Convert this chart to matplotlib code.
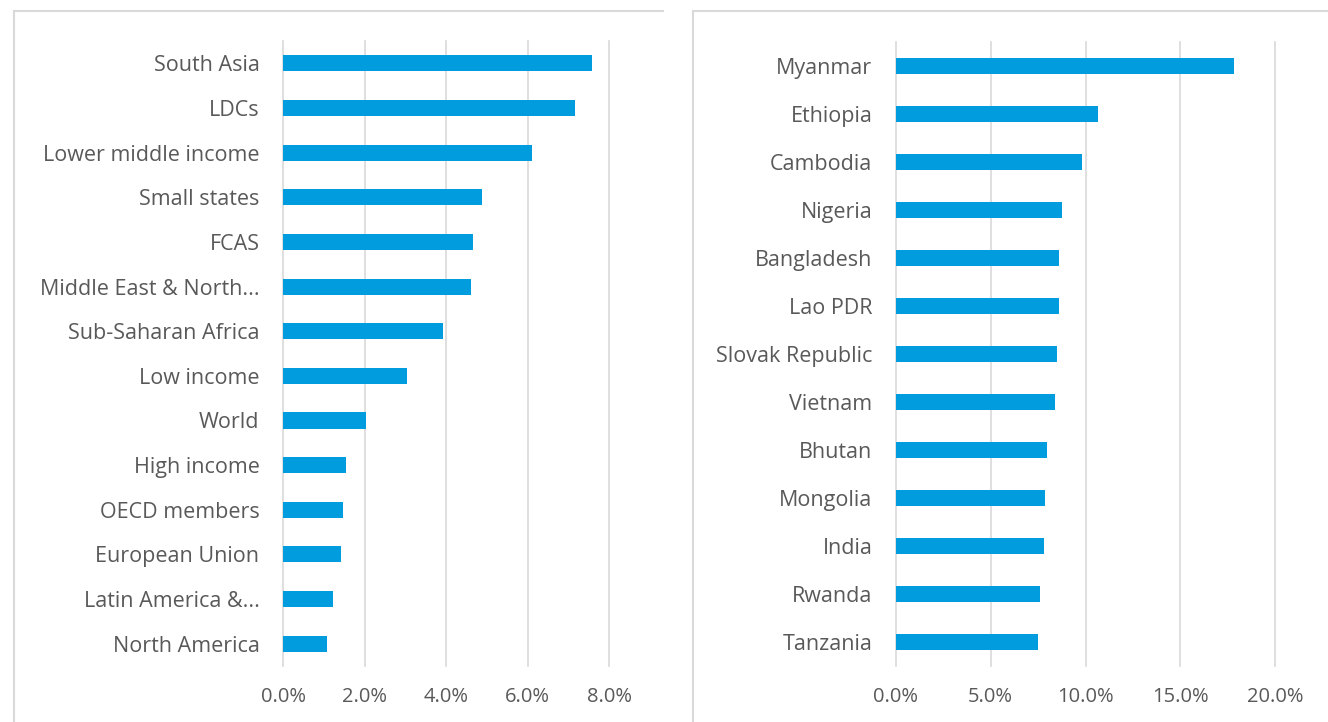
import numpy as np
import matplotlib.pyplot as plt
from matplotlib.lines import Line2D
from matplotlib.ticker import PercentFormatter

regions = ['South Asia', 'LDCs', 'Lower middle income', 'Small states', 'FCAS',
           'Middle East & North...', 'Sub-Saharan Africa', 'Low income', 'World',
           'High income', 'OECD members', 'European Union', 'Latin America &...',
           'North America']
region_vals = [7.58, 7.16, 6.11, 4.88, 4.66, 4.61, 3.93, 3.04, 2.04, 1.55, 1.47,
               1.42, 1.23, 1.08]

countries = ['Myanmar', 'Ethiopia', 'Cambodia', 'Nigeria', 'Bangladesh', 'Lao PDR',
             'Slovak Republic', 'Vietnam', 'Bhutan', 'Mongolia', 'India', 'Rwanda',
             'Tanzania']
country_vals = [17.83, 10.65, 9.81, 8.76, 8.6, 8.6, 8.5, 8.39, 7.96, 7.86, 7.8,
                7.6, 7.49]

W, H = 1328, 722
bar_color = '#009cde'
grid_color = '#d9d9d9'
text_color = '#595959'

plt.rcParams['font.family'] = ['Open Sans', 'DejaVu Sans']

fig = plt.figure(figsize=(W / 100, H / 100), dpi=100)

# panel frames: only top and left edges are visible in the crop
top = (H - 10.5) / H
for x0, x1 in [(14, 663), (693, W + 10)]:
    fig.add_artist(Line2D([x0 / W, x1 / W], [top, top], transform=fig.transFigure,
                          color=grid_color, linewidth=1.5))
    fig.add_artist(Line2D([x0 / W, x0 / W], [top, -0.1], transform=fig.transFigure,
                          color=grid_color, linewidth=1.5))


def draw(rect, labels, vals, xmax, step, height):
    ax = fig.add_axes(rect)
    y = np.arange(len(labels))
    ax.barh(y, np.array(vals) / 100, height=height, color=bar_color)
    ax.set_yticks(y)
    ax.set_yticklabels(labels)
    ax.set_ylim(len(labels) - 0.5, -0.5)
    ax.set_xlim(0, xmax)
    ax.set_xticks(np.arange(0, xmax + 1e-9, step))
    ax.xaxis.set_major_formatter(PercentFormatter(1.0, decimals=1))
    ax.grid(axis='x', color=grid_color, linewidth=1.2)
    for gl in ax.get_xgridlines():
        gl.set_clip_on(False)
    ax.set_axisbelow(True)
    for s in ax.spines.values():
        s.set_visible(False)
    ax.tick_params(axis='y', length=0, pad=17, labelsize=15.5, labelcolor=text_color)
    ax.tick_params(axis='x', length=0, pad=15, labelsize=14.5, labelcolor=text_color)
    return ax


draw([283 / W, (H - 666) / H, (609 - 283) / W, (666 - 41) / H],
     regions, region_vals, 0.08, 0.02, 0.36)
draw([896 / W, (H - 666) / H, (1275 - 896) / W, (666 - 42) / H],
     countries, country_vals, 0.20, 0.05, 0.33)

plt.savefig('out.png', dpi=100)
